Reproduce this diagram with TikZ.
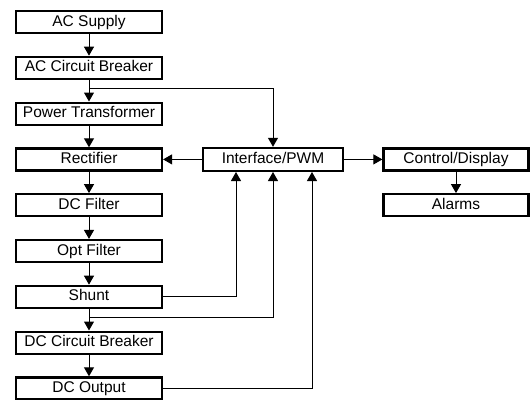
\documentclass[tikz,border=0pt]{standalone}
\usepackage{fontspec}
\setmainfont{Liberation Sans}
\usetikzlibrary{positioning,calc,arrows.meta}
\tikzset{
    block/.style = {draw, rectangle, line width=2.2pt,
        minimum height=22pt,
        minimum width=146pt, inner sep=0pt,
        font=\fontsize{15.5}{17}\selectfont,
        text height=11pt, text depth=3pt},
    arrow/.style={draw, line width=1pt, -{Triangle[length=9pt,width=10pt]}},
    wire/.style={draw, line width=1pt}
}

\begin{document}
\begin{tikzpicture}[x=1pt,y=-1pt]
            \useasboundingbox (0,0) rectangle (532,399);
            % left column
            \node[block] (acsup) at (89,22) {AC Supply};
            \node[block, below=21.6pt of acsup] (acbrk) {AC Circuit Breaker};
            \node[block, below=21.6pt of acbrk] (ptrans) {Power Transformer};
            \node[block, below=21.6pt of ptrans] (rect) {Rectifier};
            \node[block, below=21.6pt of rect] (dcfilt) {DC Filter};
            \node[block, below=21.6pt of dcfilt] (optfilt) {Opt Filter};
            \node[block, below=21.6pt of optfilt] (shunt) {Shunt};
            \node[block, below=21.6pt of shunt] (dcbrk) {DC Circuit Breaker};
            \node[block, below=21.6pt of dcbrk] (dcout) {DC Output};
            % controller and display
            \node[block, minimum width=140pt, minimum height=23pt] (pwm) at (rect.center -| 273,0) {Interface/PWM};
            \node[block, minimum width=145pt] (ctrl) at (rect.center -| 456,0) {Control/Display};
            \node[block, minimum width=145pt, below=21.6pt of ctrl] (alarms) {Alarms};
            % main chain
            \draw[arrow] (acsup) -- (acbrk);
            \draw[arrow] (acbrk) -- (ptrans);
            \draw[arrow] (ptrans) -- (rect);
            \draw[arrow] (rect) -- (dcfilt);
            \draw[arrow] (dcfilt) -- (optfilt);
            \draw[arrow] (optfilt) -- (shunt);
            \draw[arrow] (shunt) -- (dcbrk);
            \draw[arrow] (dcbrk) -- (dcout);
            % taps to the controller
            \coordinate (acTap) at ($(acbrk.south)+(0,9)$);
            \coordinate (dcTap) at ($(shunt.south)!0.4!(dcbrk.north)$);
            \draw[arrow] (acTap) -| (pwm.north);
            \draw[arrow] (shunt.east) -| ([xshift=-37pt]pwm.south);
            \draw[arrow] (dcTap) -| (pwm.south);
            \draw[arrow] (dcout.east) -| ([xshift=39pt]pwm.south);
            \draw[arrow] (pwm) -- (rect);
            \draw[arrow] (pwm) -- (ctrl);
            \draw[arrow] (ctrl) -- (alarms);
\end{tikzpicture}
\end{document}
